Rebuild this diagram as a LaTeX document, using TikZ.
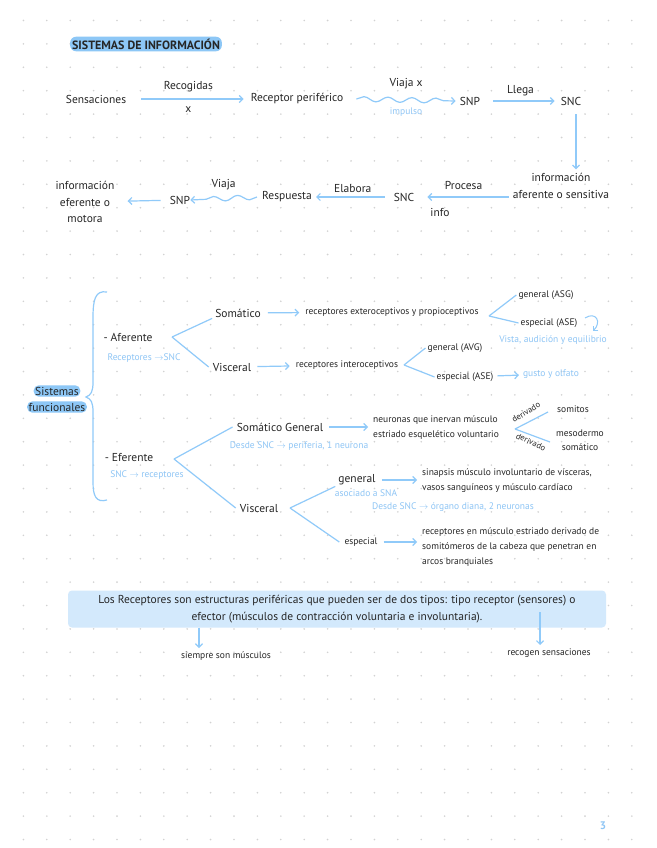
\documentclass[tikz,border=0pt]{standalone}
\usepackage{fontspec}
\setmainfont{PT Sans}
\usetikzlibrary{arrows.meta, decorations.pathmorphing, positioning}
\definecolor{lineblue}{HTML}{90CAF9}
\definecolor{noteblue}{HTML}{8EC5F5}
\definecolor{hlblue}{HTML}{8DC7F6}
\definecolor{boxblue}{HTML}{D3E9FC}
\definecolor{dotgray}{HTML}{D2D2D2}
\definecolor{ink}{HTML}{262626}

\begin{document}
\begin{tikzpicture}[x=1pt, y=-1pt]
        \tikzset{lbl/.style={text=ink, font=\fontsize{11.5}{16.5}\selectfont, inner sep=1pt}}
        \tikzset{sm/.style={text=ink, font=\fontsize{9.5}{15}\selectfont, inner sep=1pt}}
        \tikzset{nota/.style={text=noteblue, font=\fontsize{9.5}{11}\selectfont, inner sep=1pt}}
        \tikzset{arr/.style={draw=lineblue, line width=1.2pt, -{Straight Barb[length=3.5pt, width=7pt]}}}
        \tikzset{fork/.style={draw=lineblue, line width=1.2pt}}
        \tikzset{wavy/.style={arr, decorate, decoration={snake, amplitude=2.5pt, segment length=24pt, post length=7pt}}}

        \useasboundingbox (0,0) rectangle (656,848);
        \fill[white] (0,0) rectangle (656,848);
        \foreach \i in {1,...,27}{
            \foreach \j in {0,...,35}{
                \fill[dotgray] (23.4*\i, 20.5+23.4*\j) circle (0.9pt);
            }
        }

        \node[fill=hlblue, rounded corners=6pt, inner sep=2pt, text=ink, font=\fontsize{12}{13}\bfseries] (titulo) at (146,44) {SISTEMAS DE INFORMACIÓN};

        % fila superior
        \node[lbl] (sens) at (96,99) {Sensaciones};
        \node[lbl] (recep) at (297,99) {Receptor periférico};
        \node[lbl] (snp1) at (470,101) {SNP};
        \node[lbl] (snc1) at (571,101) {SNC};
        \draw[arr, shorten <=14pt, shorten >=6pt] (sens) -- (recep) node[lbl, midway, above=5pt] (recog) {Recogidas} node[lbl, midway, below=6pt] (recx) {x};
        \draw[wavy] ([xshift=12pt]recep.east) -- ([xshift=-3pt]snp1.west) node[lbl, midway, above=9pt] (viajax) {Viaja x} node[nota, midway, below=6pt] (impulso) {impulso};
        \draw[arr, shorten <=12pt, shorten >=5pt] (snp1) -- (snc1) node[lbl, midway, above=3pt] (llega) {Llega};

        \node[lbl, align=center] (info1) at (561,186) {información\\aferente o sensitiva};
        \draw[arr, shorten <=8pt, shorten >=3pt] ([xshift=5pt]snc1.south) -- ([xshift=15pt]info1.north);

        % fila de vuelta
        \node[lbl] (snc2) at (404,197) {SNC};
        \node[lbl] (resp) at (287,197) {Respuesta};
        \node[lbl] (snp2) at (180,200) {SNP};
        \node[lbl, align=center] (info2) at (85,202) {información\\eferente o\\motora};
        \draw[arr, shorten <=3pt, shorten >=12pt] (info1.west |- snc2) -- (snc2) node[lbl, midway, above=6pt] (procesa) {Procesa};
        \node[lbl] (infolab) at (440,212) {info};
        \draw[arr, shorten <=8pt, shorten >=3pt] (snc2) -- (resp) node[lbl, midway, above=3pt] (elabora) {Elabora};
        \draw[wavy] ([xshift=-4pt]resp.west) -- ([xshift=-1pt]snp2.east) node[lbl, midway, above=7pt] (viaja) {Viaja};
        \draw[arr, shorten <=8pt, shorten >=12pt] (snp2) -- (info2);

        % sistemas funcionales
        \node[lbl, fill=hlblue, rounded corners=5pt, inner sep=1.5pt] (sf1) at (57,391) {Sistemas};
        \node[lbl, fill=hlblue, rounded corners=5pt, inner sep=1.5pt] (sf2) at (57,407) {funcionales};
        \draw[fork] (107,292) .. controls (95,290) and (93,300) .. (93,318) -- (93,382) .. controls (93,392) and (91,395) .. (86,397) .. controls (91,399) and (93,402) .. (93,412) -- (93,482) .. controls (93,496) and (96,503) .. (107,500);

        \node[lbl] (afer) at (128,337) {- Aferente};
        \node[nota] (afnota) at (144,358) {Receptores $\rightarrow$SNC};
        \coordinate (forkA) at (172,337);
        \node[lbl] (som) at (238,313) {Somático};
        \node[lbl] (vis) at (232,367) {Visceral};
        \draw[fork] (forkA) -- ([xshift=-2pt]som.south west);
        \draw[fork] (forkA) -- ([xshift=-3pt]vis.west);

        \node[sm] (exte) at (392,312) {receptores exteroceptivos y propioceptivos};
        \draw[arr, shorten <=6pt, shorten >=5pt] (som) -- (exte);
        \coordinate (forkB) at (489,316);
        \node[sm] (asg) at (546,295) {general (ASG)};
        \node[sm] (ase1) at (549,323) {especial (ASE)};
        \node[nota] (vista) at (553,340) {Vista, audición y equilibrio};
        \draw[fork] (forkB) -- ([xshift=-1pt]asg.west);
        \draw[fork] (forkB) -- ([xshift=-1pt]ase1.west);
        \draw[arr, line width=1pt] (585,318) .. controls (596,311) and (602,322) .. (593,331);

        \node[sm] (inter) at (347,365) {receptores interoceptivos};
        \draw[arr, shorten <=5pt, shorten >=5pt] (vis) -- (inter);
        \coordinate (forkC) at (404,365);
        \node[sm] (avg) at (455,348) {general (AVG)};
        \node[sm] (ase2) at (465,377) {especial (ASE)};
        \node[nota] (gusto) at (551,374) {gusto y olfato};
        \draw[fork] (forkC) -- ([xshift=-1pt]avg.west);
        \draw[fork] (forkC) -- ([xshift=-1pt]ase2.west);
        \draw[arr, shorten <=3pt, shorten >=3pt] (ase2) -- (gusto);

        \node[lbl] (efer) at (129,458) {- Eferente};
        \node[nota] (efnota) at (147,475) {SNC $\rightarrow$ receptores};
        \coordinate (forkD) at (174,459);
        \node[lbl] (somg) at (280,427) {Somático General};
        \node[nota] (somgnota) at (299,446) {Desde SNC $\rightarrow$ periferia, 1 neurona};
        \node[lbl] (visc2) at (259,508) {Visceral};
        \draw[fork] (forkD) -- ([xshift=-3pt]somg.west);
        \draw[fork] (forkD) -- ([xshift=-3pt]visc2.west);

        \node[sm, anchor=west, align=left] (neur) at (372,428) {neuronas que inervan músculo\\estriado esquelético voluntario};
        \draw[arr, shorten <=5pt, shorten >=4pt] (somg) -- (somg -| neur.west);
        \coordinate (forkE) at (515,429);
        \node[sm, font=\fontsize{8.5}{10}\selectfont, rotate=32] (der1) at (526,412) {derivado};
        \node[sm, font=\fontsize{8.5}{10}\selectfont, rotate=-25] (der2) at (531,442) {derivado};
        \node[sm] (somitos) at (573,409) {somitos};
        \node[sm, align=center, font=\fontsize{9.5}{14}\selectfont] (meso) at (580,440) {mesodermo\\somático};
        \draw[fork] (forkE) -- (548,412);
        \draw[fork] (forkE) -- (550,442);

        \coordinate (forkF) at (290,508);
        \node[lbl] (gen) at (357,480) {general};
        \node[nota] (gennota) at (366,493) {asociado a SNA};
        \node[sm] (esp) at (361,542) {especial};
        \draw[fork] (forkF) -- ([xshift=-2pt]gen.south west);
        \draw[fork] (forkF) -- ([xshift=-4pt]esp.west);
        \node[sm, anchor=west, align=left] (sinap) at (421,481) {sinapsis músculo involuntario de vísceras,\\vasos sanguíneos y músculo cardíaco};
        \draw[arr, shorten <=5pt, shorten >=4pt] (gen) -- (gen -| sinap.west);
        \node[nota] (desde2) at (453,507) {Desde SNC $\rightarrow$ órgano diana, 2 neuronas};
        \node[sm, anchor=west, align=left] (recmus) at (421,547) {receptores en músculo estriado derivado de\\somitómeros de la cabeza que penetran en\\arcos branquiales};
        \draw[arr, shorten <=5pt, shorten >=4pt] (esp) -- (esp -| recmus.west);

        % recuadro final
        \node[lbl, fill=boxblue, rounded corners=4pt, minimum width=538pt, minimum height=37pt, align=center] (los) at (337,609) {Los Receptores son estructuras periféricas que pueden ser de dos tipos: tipo receptor (sensores) o\\efector (músculos de contracción voluntaria e involuntaria).};
        \node[sm] (siempre) at (226,656) {siempre son músculos};
        \node[sm] (recogen) at (549,653) {recogen sensaciones};
        \coordinate (c1) at (199,648);
        \coordinate (c2) at (540,645);
        \draw[arr] (c1 |- los.south) -- (c1);
        \draw[arr, shorten <=3pt] (c2 |- los.center) -- (c2);

        \node[text=noteblue, font=\fontsize{11}{12}\bfseries] (pag) at (603,826) {3};
    \end{tikzpicture}
\end{document}
